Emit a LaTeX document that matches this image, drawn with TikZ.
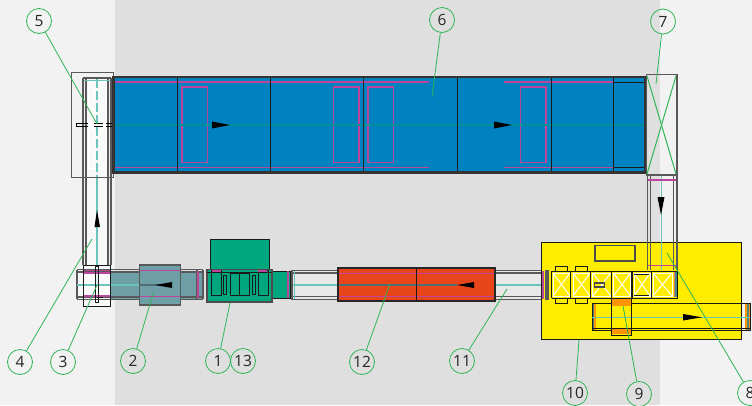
\documentclass[tikz,border=0pt]{standalone}
\usepackage{fontspec}
\setmainfont{Open Sans}
\definecolor{pagegrey}{HTML}{F2F2F2}
\definecolor{hallgrey}{HTML}{DFDFDF}
\definecolor{ovenblue}{HTML}{0082C1}
\definecolor{coolgrey}{HTML}{6E9FA6}
\definecolor{pressgreen}{HTML}{00A67E}
\definecolor{heatred}{HTML}{E8451A}
\definecolor{lineyellow}{HTML}{FFED00}
\definecolor{railteal}{HTML}{6CC5BA}
\definecolor{stripmag}{HTML}{BE459E}
\definecolor{ovenmid}{HTML}{00909A}
\definecolor{leadgreen}{HTML}{2FB457}
\tikzset{
  numlabel/.style={circle,draw=leadgreen,line width=0.8pt,minimum size=25pt,inner sep=0pt,font=\fontsize{15.5}{15.5}\selectfont,text=black!85},
  leader/.style={draw=leadgreen,line width=0.8pt},
  rail/.style={draw=black!65,line width=1.2pt},
  unit/.style={draw=black!90,line width=1pt},
  heavy/.style={draw=black!85,line width=1.8pt},
  midline/.style={draw=railteal,line width=1.4pt},
  strip/.style={draw=stripmag,line width=1.25pt},
  crossx/.style={draw=white,line width=1pt}
}
\begin{document}
\begin{tikzpicture}[x=1pt,y=-1pt]
  \useasboundingbox (0,0) rectangle (752,405);
  \fill[pagegrey] (0,0) rectangle (752,405);
  \fill[hallgrey] (115,0) rectangle (660,405);

  % left transfer
  \fill[white,opacity=0.5] (86,79) rectangle (108,265);
  \draw[rail] (83,78) -- (83,265); \draw[rail] (86,78) -- (86,265);
  \draw[rail] (108,78) -- (108,265); \draw[rail] (111,78) -- (111,265);
  \draw[rail] (83,78) -- (111,78);
  \draw[midline] (84,80.5) -- (110,80.5);
  \foreach \yy in {82,125} {
    \draw[crossx] (88,\yy) rectangle (106,\yy+43);
    \draw[crossx] (88,\yy) -- (106,\yy+21.5) -- (88,\yy+43);
    \draw[crossx] (106,\yy) -- (88,\yy+21.5) -- (106,\yy+43);
  }
  \draw[midline,dashed,dash pattern=on 9pt off 3pt] (97,79) -- (97,177);
  \draw[midline] (97,177) -- (97,285);
  \draw[draw=black!65,line width=0.9pt] (71,72.5) rectangle (113.5,177);
  \draw[draw=black,line width=1pt] (76.5,123) rectangle (114,126.5);
  \fill[white] (88,122) rectangle (94,127.5);
  \fill[white] (103,122) rectangle (106,127.5);
  \fill[black] (97,210) -- (100,227) -- (94.5,227) -- cycle;

  % bottom run, left part
  \fill[coolgrey] (110,271) rectangle (203,299);
  \fill[white,opacity=0.5] (77,272) rectangle (110,298);
  \fill[pagegrey] (84,265) rectangle (110,270);
  \fill[white,opacity=0.6] (84,265) rectangle (110,306);
  \foreach \yy in {269.5,272,297,299.5} \draw[rail] (77,\yy) -- (203,\yy);
  \draw[rail] (77,270) -- (77,299);
  \draw[rail] (197,270) -- (197,299);
  \draw[rail] (203,270) -- (203,299);
  \draw[strip] (84,270.5) -- (110,270.5);
  \draw[strip] (84,273) -- (110,273);
  \draw[strip] (84,296) -- (110,296);
  \draw[strip] (198,271) -- (198,298);
  \draw[midline] (77,285) -- (139,285);
  \draw[unit] (83.5,265) rectangle (110,306);
  \draw[unit] (95.5,266) rectangle (98.5,302);
  \draw[unit] (97,297) -- (103,297);
  \fill[coolgrey] (139.5,265) rectangle (180.5,305);
  \draw[strip] (140,270.5) -- (180,270.5);
  \draw[strip] (140,296.5) -- (180,296.5);
  \draw[midline,draw=coolgrey!70!black] (140,285) -- (160,285);
  \draw[heavy,draw=black!65] (139.5,265) rectangle (180.5,305);
  \fill[black] (155,285) -- (172,282) -- (172,288) -- cycle;

  % press
  \fill[pressgreen] (210,239) rectangle (269,269);
  \draw[unit] (210,239) rectangle (269,269);
  \fill[pressgreen] (207,269.5) rectangle (272,302);
  \fill[pressgreen] (272,271) rectangle (290,298);
  \draw[unit] (272,271) -- (290,271) -- (290,298) -- (272,298);
  \draw[heavy,draw=black!70] (207,269.5) rectangle (272,302);
  \draw[unit] (207,272) -- (272,272);
  \draw[unit] (211.5,270) rectangle (221.5,295);
  \draw[unit] (258,270) rectangle (268,295);
  \draw[unit] (223.5,275.5) rectangle (226.5,294);
  \draw[unit] (252.5,275.5) rectangle (255.5,294);
  \draw[unit] (230,273.5) rectangle (239,295.5);
  \draw[unit] (239,273.5) rectangle (249.5,295.5);
  \draw[strip] (212,271) -- (221,271);
  \draw[strip] (258,271) -- (267,271);
  \draw[strip] (288,271) -- (288,298);

  % bottom run, middle
  \fill[white,opacity=0.3] (292,271) rectangle (338,299);
  \fill[white,opacity=0.3] (495,271) rectangle (548,299);
  \foreach \xa/\xb in {292/338,495/548} {
    \draw[rail] (\xa,270.5) -- (\xb,270.5); \draw[rail] (\xa,273) -- (\xb,273);
    \draw[rail] (\xa,296.5) -- (\xb,296.5); \draw[rail] (\xa,299.5) -- (\xb,299.5);
    \draw[midline] (\xa,285) -- (\xb,285);
  }
  \draw[rail] (292,270) -- (292,300);
  \draw[midline] (294.5,271) -- (294.5,299);

  % heater
  \fill[heatred] (338,268) rectangle (495,301);
  \draw[strip] (338,273.5) -- (495,273.5);
  \draw[strip] (338,296.5) -- (495,296.5);
  \draw[line width=1.4pt,draw=coolgrey!70!black] (338,285) -- (457,285);
  \draw[heavy] (338,268) rectangle (495,301);
  \draw[unit] (416.5,268) -- (416.5,301);
  \fill[black] (457,285) -- (474,282) -- (474,288) -- cycle;

  % oven
  \fill[ovenblue] (113.5,77) rectangle (646,172.5);
  \draw[strip] (114,82) -- (429,82);
  \draw[strip] (504,82) -- (613,82);
  \draw[strip] (114,167.5) -- (429,167.5);
  \draw[strip] (504,167.5) -- (613,167.5);
  \foreach \xa in {182,333.5,368,520.5} \draw[strip] (\xa,87) rectangle (\xa+25.5,162.5);
  \draw[line width=1.4pt,draw=ovenmid] (113.5,125) -- (646,125);
  \foreach \xa in {177,270,457.5,551,613} \draw[unit] (\xa,77) -- (\xa,172.5);
  \draw[heavy] (363.5,77) -- (363.5,172.5);
  \draw[unit] (613,82.5) -- (645,82.5);
  \draw[unit] (613,167.5) -- (645,167.5);
  \draw[draw=black!80,line width=2.6pt] (113.5,77) rectangle (645.5,172.5);
  \foreach \xa in {212,494} \fill[black] (\xa,121.5) -- (\xa+18,125) -- (\xa,128.5) -- cycle;

  % right transfer
  \fill[hallgrey] (646.5,74.5) rectangle (660,175);
  \draw[rail] (646.5,74.5) rectangle (677,175);
  \draw[leader,line width=1pt] (647,76) -- (676,174);
  \draw[leader,line width=1pt] (676,76) -- (647,174);

  % yellow table
  \fill[lineyellow] (541.7,242) rectangle (741.5,339.5);
  \draw[unit] (541.7,242) rectangle (741.5,339.5);
  \draw[heavy,draw=black!70,line width=1.2pt] (595,245.5) rectangle (635,261);
  \foreach \xa in {647.5,650.5,673.5,677} \draw[rail] (\xa,175) -- (\xa,270);
  \draw[midline] (661.5,176) -- (661.5,270);
  \draw[strip] (648,180) -- (676,180);
  \draw[strip] (648,265.7) -- (676,265.7);
  \fill[black] (661,215) -- (657.5,197) -- (664.5,197) -- cycle;

  % rollers
  \foreach \xa in {555,575} {
    \draw[unit] (\xa,266) rectangle (\xa+12.5,271);
    \draw[unit] (\xa,298) rectangle (\xa+12.5,303);
  }
  \draw[unit] (632,271) rectangle (677,298);
  \foreach \xa/\xb in {553/570,573/590,592.5/611,613.5/630.5,634/650,653/672} {
    \draw[crossx] (\xa,273) rectangle (\xb,296);
    \draw[crossx] (\xa,273) -- (\xb,296);
    \draw[crossx] (\xb,273) -- (\xa,296);
  }
  \foreach \xa in {551.5,570.7,590.7,611.7,631.7,651.7} \draw[unit] (\xa,271) -- (\xa,298);
  \draw[unit] (551.5,271) -- (677,271);
  \draw[unit] (551.5,298) -- (677,298);
  \draw[unit] (634,274.5) -- (649,274.5);
  \draw[unit] (634,295) -- (649,295);
  \draw[heavy,draw=black!70,line width=1.4pt] (594.5,283) rectangle (604.5,287);
  \fill[stripmag!70!lineyellow] (673.5,272) rectangle (675,297);
  \fill[railteal!70!black] (675,272) rectangle (677,297);
  \draw[strip] (543,271) -- (543,299);
  \draw[rail] (546,270) -- (546,300);
  \draw[rail] (548,270) -- (548,300);

  % outfeed
  \fill[orange!80!lineyellow] (592,303.5) rectangle (596,330);
  \fill[railteal!70!black] (592,303.5) rectangle (593.5,330);
  \fill[orange!80!lineyellow] (745,303.5) rectangle (750,330);
  \fill[railteal!70!black] (747,303.5) rectangle (748.5,330);
  \draw[unit] (592,303.5) -- (750,303.5) -- (750,330.5) -- (592,330.5) -- cycle;
  \draw[unit] (592,328) -- (750,328);
  \draw[midline] (592,317.3) -- (750,317.3);
  \fill[orange!80!lineyellow] (612,299) rectangle (631.5,306);
  \fill[orange!80!lineyellow] (612,328.5) rectangle (631.5,334);
  \draw[unit] (611.7,298) rectangle (631.7,335);
  \fill[black] (683,314) -- (702,317.3) -- (683,320.5) -- cycle;

  % numbers
  \node[numlabel] (n5) at (39,21) {5};
  \node[numlabel] (n6) at (442,20) {6};
  \node[numlabel] (n7) at (663,21.5) {7};
  \node[numlabel] (n8) at (750,393) {8};
  \node[numlabel] (n9) at (639,394) {9};
  \node[numlabel] (n10) at (575,393) {10};
  \node[numlabel] (n11) at (462,361) {11};
  \node[numlabel] (n12) at (362,362) {12};
  \node[numlabel] (n1) at (218,361) {1};
  \node[numlabel] (n13) at (243,361) {13};
  \node[numlabel] (n2) at (133,361) {2};
  \node[numlabel] (n3) at (63,362) {3};
  \node[numlabel] (n4) at (20,362) {4};
  \foreach \nn/\xx/\yy in {5/97/124,6/432/97,7/656/84,8/667/253,9/623/306,10/579/340,11/507/289,12/390/284,1/230/303,2/153/294,3/97/285,4/92/239} {
    \coordinate (p\nn) at (\xx,\yy);
    \draw[leader] (n\nn) -- (p\nn);
  }
\end{tikzpicture}
\end{document}
